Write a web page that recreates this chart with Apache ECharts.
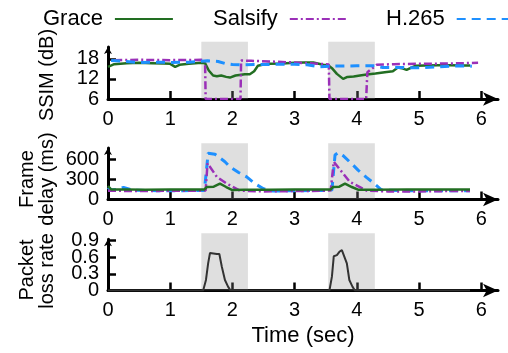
<!DOCTYPE html>
<html><head><meta charset="utf-8">
<script src="https://cdn.jsdelivr.net/npm/echarts@6/dist/echarts.min.js"></script>
<style>html,body{margin:0;padding:0;background:#fff}#c{width:508px;height:353px}</style>
</head><body><div id="c"></div>
<script>
// ---- data ----
const xTicks = [0, 1, 2, 3, 4, 5, 6];
const ssimTicks = [6, 12, 18];
const delayTicks = [0, 300, 600];
const lossTicks = [0, 0.3, 0.6, 0.9];
const lossBursts = [[1.5, 2.25], [3.54, 4.29]];

const graceSsimT = [0, 0.1, 0.3, 0.5, 0.7, 0.9, 1.0, 1.08, 1.15, 1.3, 1.5, 1.56, 1.62, 1.69, 1.75, 1.82, 1.9, 1.96, 2.05, 2.2, 2.28, 2.35, 2.41, 2.5, 2.6, 2.8, 3.0, 3.15, 3.3, 3.46, 3.54, 3.6, 3.68, 3.78, 3.85, 3.95, 4.05, 4.16, 4.3, 4.45, 4.58, 4.66, 4.72, 4.8, 4.94, 5.1, 5.3, 5.5, 5.7, 5.82];
const graceSsimV = [15.6, 16.4, 16.7, 16.8, 16.7, 16.6, 16.5, 15.6, 16.2, 16.5, 16.8, 16.7, 14.5, 13.0, 12.8, 13.0, 12.6, 12.4, 13.0, 13.4, 13.4, 14.3, 15.9, 16.3, 16.5, 16.6, 16.8, 16.9, 16.9, 16.2, 16.1, 15.2, 13.5, 12.0, 12.6, 12.7, 13.0, 13.3, 13.6, 14.0, 14.3, 15.4, 15.2, 14.7, 15.9, 16.0, 16.1, 16.1, 16.0, 16.0];

const salsifySsimT = [0.1, 0.5, 1.0, 1.5, 1.56, 1.57, 2.13, 2.14, 2.3, 2.6, 3.0, 3.3, 3.55, 3.56, 4.15, 4.17, 4.32, 4.6, 5.0, 5.5, 5.95];
const salsifySsimV = [17.6, 17.7, 17.6, 17.7, 17.6, 6.0, 6.0, 17.5, 17.4, 17.2, 16.9, 16.6, 16.3, 6.0, 6.0, 14.0, 16.2, 16.4, 16.5, 16.6, 16.8];

const h265SsimT = [0.05, 0.2, 0.5, 0.8, 1.0, 1.3, 1.5, 1.6, 1.77, 1.88, 2.0, 2.12, 2.5, 3.0, 3.2, 3.4, 3.6, 4.0, 4.2, 4.3, 4.42, 4.7, 5.0, 5.3, 5.65, 5.85];
const h265SsimV = [17.5, 17.3, 16.9, 17.0, 16.9, 17.0, 17.3, 17.4, 17.2, 16.6, 16.3, 16.2, 16.3, 16.4, 16.2, 15.6, 15.8, 15.9, 15.9, 15.9, 15.4, 15.4, 15.3, 15.6, 15.9, 15.8];

const graceDelayT = [0, 0.05, 0.3, 0.6, 1.0, 1.3, 1.55, 1.59, 1.7, 1.8, 1.9, 2.0, 2.2, 2.6, 3.0, 3.4, 3.58, 3.62, 3.72, 3.81, 3.92, 4.02, 4.3, 4.8, 5.3, 5.82];
const graceDelayV = [200, 150, 150, 145, 150, 150, 150, 185, 190, 235, 185, 140, 145, 145, 150, 150, 150, 185, 190, 235, 185, 145, 145, 150, 150, 150];

const salsifyDelayT = [0, 0.5, 1.0, 1.5, 1.57, 1.60, 1.75, 1.91, 2.12, 2.5, 3.0, 3.5, 3.58, 3.63, 3.78, 3.89, 4.05, 4.16, 4.5, 5.0, 5.5, 5.82];
const salsifyDelayV = [130, 125, 130, 130, 135, 535, 335, 235, 130, 120, 125, 130, 135, 560, 385, 260, 185, 130, 120, 120, 125, 125];

const h265DelayT = [0, 0.05, 0.15, 0.25, 0.4, 0.8, 1.2, 1.55, 1.61, 1.72, 1.88, 1.96, 2.10, 2.23, 2.36, 2.5, 2.65, 3.0, 3.5, 3.6, 3.65, 3.70, 3.78, 3.94, 4.02, 4.16, 4.27, 4.4, 4.8, 5.3, 5.82];
const h265DelayV = [180, 140, 150, 180, 140, 130, 130, 135, 685, 670, 560, 485, 400, 335, 235, 160, 125, 130, 135, 140, 660, 695, 650, 510, 435, 325, 245, 140, 130, 130, 130];

const lossT = [0, 1.53, 1.575, 1.61, 1.64, 1.67, 1.75, 1.79, 1.83, 1.88, 1.93, 1.97, 3.56, 3.6, 3.63, 3.68, 3.72, 3.76, 3.79, 3.84, 3.88, 3.93, 3.97, 5.82];
const lossV = [0, 0, 0.19, 0.49, 0.68, 0.67, 0.66, 0.66, 0.43, 0.19, 0.07, 0, 0, 0.25, 0.62, 0.64, 0.70, 0.73, 0.70, 0.49, 0.19, 0.07, 0, 0];

// ---- build ----
const zip = (t, v) => t.map((x, i) => [x, v[i]]);
const FONT = '"Liberation Sans", Arial, Helvetica, sans-serif';
const C_GREEN = '#226e22', C_PURPLE = '#9b30b8', C_BLUE = '#1e90ff';
const PX_PER_SEC = 62.2;
const L = 108, W = 390;
const XMAX = W / PX_PER_SEC;

const panels = [
  {top: 47, h: 52, min: 6, max: 6 + 52 / 3.35, ticks: ssimTicks, shadeTop: 41.7},
  {top: 148, h: 51.5, min: 0, max: 51.5 / 40.5 * 600, ticks: delayTicks, shadeTop: 143.3},
  {top: 239.3, h: 51.2, min: 0, max: 51.2 / 55.3, ticks: lossTicks, shadeTop: 233.3}
];

const labelStyle = {color: '#000', fontSize: 20, fontFamily: FONT, margin: 9, hideOverlap: false};
const grid = [], xAxis = [], yAxis = [], series = [];
panels.forEach((p, i) => {
  grid.push({left: L, top: p.top, width: W, height: p.h});
  xAxis.push({
    type: 'value', gridIndex: i, min: 0, max: XMAX,
    axisLine: {lineStyle: {color: '#000', width: 3}, symbol: ['none', 'arrow'], symbolSize: [10, 15]},
    axisTick: {show: true, inside: true, length: 8, lineStyle: {color: '#000', width: 2.5}, customValues: xTicks},
    axisLabel: Object.assign({}, labelStyle, {customValues: xTicks, margin: 10}),
    splitLine: {show: false}
  });
  // labels split across two overlaid axes so close labels are all kept
  const labA = p.ticks.filter((_, k) => k % 2 === 0);
  yAxis.push({
    type: 'value', gridIndex: i, position: 'left', min: p.min, max: p.max,
    axisLine: {show: true, lineStyle: {color: '#000', width: 3}, symbol: ['none', 'arrow'], symbolSize: [6, 7]},
    axisTick: {show: true, inside: true, length: 8, lineStyle: {color: '#000', width: 2.5}, customValues: p.ticks},
    axisLabel: Object.assign({}, labelStyle, {customValues: labA}),
    splitLine: {show: false}
  });
});
// shade grids
panels.forEach((p, i) => {
  const bottom = p.top + p.h;
  grid.push({left: L, top: p.shadeTop, width: W, height: bottom - p.shadeTop});
  xAxis.push({type: 'value', gridIndex: 3 + i, min: 0, max: XMAX, show: false});
  yAxis.push({type: 'value', gridIndex: 3 + i, min: 0, max: 1, show: false});
  series.push({
    type: 'line', xAxisIndex: 3 + i, yAxisIndex: 3 + i, data: [[0, 0]], symbol: 'none',
    lineStyle: {opacity: 0}, silent: true, z: 5,
    markArea: {silent: true, itemStyle: {color: 'rgba(140,140,140,0.28)'},
      data: lossBursts.map(b => [{xAxis: b[0]}, {xAxis: b[1]}])}
  });
});
// second label axes (odd-indexed ticks)
panels.forEach((p, i) => {
  const labB = p.ticks.filter((_, k) => k % 2 === 1);
  yAxis.push({
    type: 'value', gridIndex: i, position: 'left', offset: 0, min: p.min, max: p.max,
    axisLine: {show: false}, axisTick: {show: false}, splitLine: {show: false},
    axisLabel: Object.assign({}, labelStyle, {customValues: labB})
  });
});

const lineS = (name, xi, data, color, width, type) => ({
  name, type: 'line', xAxisIndex: xi, yAxisIndex: xi, data, symbol: 'none', showSymbol: false,
  lineStyle: {color, width, type}, itemStyle: {color}, z: 2, animation: false
});
series.push(lineS('Grace', 0, zip(graceSsimT, graceSsimV), C_GREEN, 2.5, 'solid'));
series.push(lineS('Salsify', 0, zip(salsifySsimT, salsifySsimV), C_PURPLE, 2.5, [8, 3, 2, 3]));
series.push(lineS('H.265', 0, zip(h265SsimT, h265SsimV), C_BLUE, 3, [9, 6]));
series.push(lineS('H.265', 1, zip(h265DelayT, h265DelayV), C_BLUE, 3, [9, 6]));
series.push(lineS('Salsify', 1, zip(salsifyDelayT, salsifyDelayV), C_PURPLE, 2.5, [8, 3, 2, 3]));
series.push(lineS('Grace', 1, zip(graceDelayT, graceDelayV), C_GREEN, 2.5, 'solid'));
series.push(lineS('loss', 2, zip(lossT, lossV), '#333', 2, 'solid'));

const legendItem = (name, left) => ({
  data: [name], left, top: 3, align: 'right', itemWidth: 58, itemHeight: 14,
  itemStyle: {color: 'rgba(0,0,0,0)', borderColor: 'rgba(0,0,0,0)', borderWidth: 0},
  textStyle: {fontSize: 22, fontFamily: FONT, color: '#000', padding: [0, 7, 0, 0]},
  selectedMode: false
});

const txt = (text, x, y, size, rot) => ({
  type: 'text', x, y, rotation: rot ? Math.PI / 2 : 0,
  style: {text, fontSize: size, fontFamily: FONT, fill: '#000', align: 'center', verticalAlign: 'middle'}
});

const chart = echarts.init(document.getElementById('c'), null, {renderer: 'canvas'});
chart.setOption({
  animation: false,
  backgroundColor: '#fff',
  legend: [legendItem('Grace', 38), legendItem('Salsify', 208), legendItem('H.265', 381)],
  grid, xAxis, yAxis, series,
  graphic: [
    txt('SSIM (dB)', 47, 75, 20, true),
    txt('Frame', 27, 179, 20, true),
    txt('delay (ms)', 47, 179, 20, true),
    txt('Packet', 27, 270, 20, true),
    txt('loss rate', 47, 271, 20, true),
    txt('Time (sec)', 303, 336, 22, false)
  ]
});
</script></body></html>
